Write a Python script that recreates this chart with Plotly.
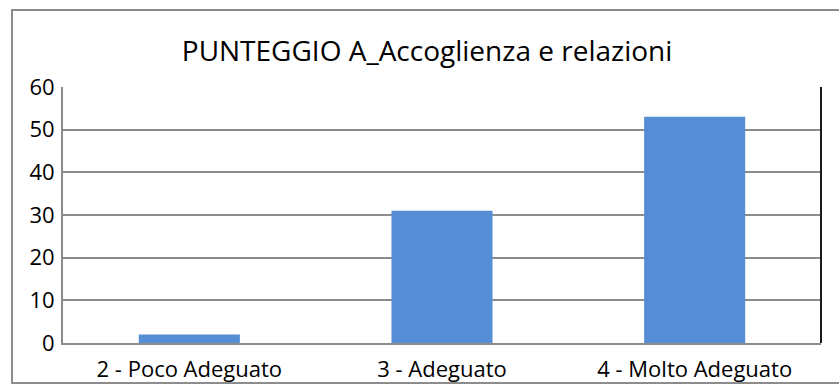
import plotly.graph_objects as go

categories = ["2 - Poco Adeguato", "3 - Adeguato", "4 - Molto Adeguato"]
values = [2, 31, 53]
y_ticks = [0, 10, 20, 30, 40, 50, 60]

FONT = "Open Sans"
BAR_COLOR = "#558ED5"
GRID = "#8C8C8C"

fig = go.Figure(
    go.Bar(
        x=categories,
        y=values,
        marker=dict(color=BAR_COLOR, line=dict(width=0)),
        hoverinfo="x+y",
    )
)

fig.update_layout(
    width=839,
    height=386,
    margin=dict(l=63, r=18, t=87, b=43, autoexpand=False),
    paper_bgcolor="white",
    plot_bgcolor="white",
    showlegend=False,
    bargap=0.6,
    font=dict(family=FONT, size=22, color="black"),
    title=dict(
        text="PUNTEGGIO A_Accoglienza e relazioni",
        font=dict(family=FONT, size=28, color="black"),
        x=0.509,
        xanchor="center",
        xref="container",
        y=1 - 51 / 386,
        yanchor="middle",
        yref="container",
    ),
    xaxis=dict(
        automargin=False,
        showgrid=False,
        showline=True,
        linecolor=GRID,
        linewidth=2,
        ticks="",
        ticklabelstandoff=6,
        tickfont=dict(family=FONT, size=22),
    ),
    yaxis=dict(
        automargin=False,
        range=[0, 60],
        tickvals=y_ticks,
        showgrid=True,
        gridcolor=GRID,
        gridwidth=2,
        showline=True,
        linecolor=GRID,
        linewidth=2,
        zeroline=False,
        ticks="",
        ticklabelstandoff=2,
        tickfont=dict(family=FONT, size=22),
    ),
    shapes=[
        # outer chart frame
        dict(
            type="rect",
            xref="paper",
            yref="paper",
            x0=-0.0673,
            x1=1.05,
            y0=-0.156,
            y1=1.3008,
            line=dict(color="#8C8C8C", width=2),
            fillcolor="rgba(0,0,0,0)",
            layer="below",
        ),
        # dark right edge of the plot area
        dict(
            type="line",
            xref="paper",
            yref="paper",
            x0=1,
            x1=1,
            y0=0,
            y1=1,
            line=dict(color="#1A1A1A", width=2),
        ),
    ],
)

fig.write_html("out.html")
